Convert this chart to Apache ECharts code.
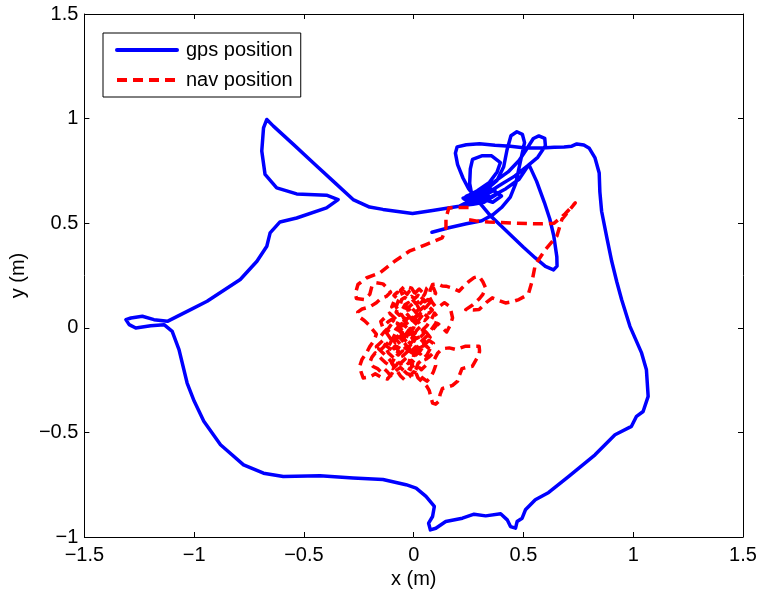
<!DOCTYPE html>
<html>
<head>
<meta charset="utf-8">
<script src="https://cdn.jsdelivr.net/npm/echarts@6/dist/echarts.min.js"></script>
<style>html,body{margin:0;padding:0;background:#fff}#c{width:761px;height:595px}</style>
</head>
<body>
<div id="c"></div>
<script>
var xTicks = [-1.5, -1, -0.5, 0, 0.5, 1, 1.5];
var yTicks = [-1, -0.5, 0, 0.5, 1, 1.5];
var seriesNames = ['gps position', 'nav position'];

var gpsX = [0.083,0.16,0.24,0.31,0.36,0.40,0.44,0.465,0.485,0.505,0.495,0.47,0.443,0.425,0.41,0.38,0.33,0.27,0.225,0.27,
0.33,0.39,0.46,0.52,0.565,0.60,0.597,0.57,0.545,0.515,0.48,0.43,0.37,0.31,0.265,0.255,0.258,0.268,0.31,0.355,
0.395,0.38,0.345,0.29,0.235,0.29,0.35,0.42,0.48,0.525,0.56,0.595,0.62,0.638,0.652,0.653,0.637,0.60,0.554,0.50,
0.45,0.40,0.35,0.31,0.28,0.25,0.225,0.20,0.19,0.198,0.24,0.30,0.37,0.44,0.51,0.585,0.64,0.685,0.72,0.743,
0.775,0.80,0.826,0.845,0.848,0.856,0.88,0.902,0.925,0.947,0.985,1.038,1.06,1.068,1.045,1.015,0.992,0.917,0.826,0.705,
0.615,0.554,0.509,0.494,0.471,0.464,0.441,0.426,0.396,0.328,0.275,0.222,0.146,0.101,0.076,0.068,0.086,0.094,0.056,0.011,
-0.035,-0.14,-0.276,-0.427,-0.594,-0.684,-0.775,-0.88,-0.956,-1.0,-1.032,-1.069,-1.10,-1.137,-1.198,-1.266,-1.296,-1.311,-1.288,-1.236,
-1.183,-1.122,-1.016,-0.941,-0.79,-0.714,-0.669,-0.654,-0.609,-0.533,-0.397,-0.344,-0.397,-0.533,-0.624,-0.677,-0.692,-0.684,-0.669,-0.639,
-0.548,-0.458,-0.367,-0.276,-0.201,-0.14,-0.005,0.086,0.207,0.282,0.33,0.37,0.31,0.26,0.33,0.38,0.32,0.27,
0.22,0.28,0.34,0.30,0.24,0.30,0.36,0.40,0.35,0.29,0.23,0.29,0.345,0.31,0.26];
var gpsY = [0.457,0.478,0.497,0.512,0.54,0.575,0.625,0.69,0.79,0.885,0.925,0.937,0.918,0.85,0.77,0.705,0.66,0.635,0.62,0.61,
0.64,0.68,0.725,0.775,0.815,0.87,0.905,0.917,0.905,0.855,0.80,0.745,0.70,0.66,0.635,0.69,0.76,0.805,0.822,0.822,
0.79,0.745,0.695,0.655,0.625,0.605,0.625,0.665,0.71,0.78,0.70,0.60,0.52,0.44,0.34,0.295,0.277,0.294,0.334,0.385,
0.435,0.485,0.535,0.585,0.625,0.665,0.715,0.78,0.835,0.865,0.875,0.88,0.873,0.868,0.86,0.86,0.863,0.864,0.868,0.879,
0.874,0.858,0.812,0.74,0.65,0.557,0.43,0.318,0.22,0.135,0.007,-0.12,-0.20,-0.328,-0.40,-0.423,-0.471,-0.511,-0.607,-0.711,
-0.787,-0.822,-0.870,-0.910,-0.926,-0.958,-0.950,-0.918,-0.889,-0.899,-0.891,-0.910,-0.926,-0.958,-0.966,-0.934,-0.902,-0.854,-0.806,-0.766,
-0.750,-0.725,-0.718,-0.707,-0.711,-0.695,-0.655,-0.559,-0.447,-0.35,-0.264,-0.104,-0.017,0.015,0.010,-0.001,0.015,0.039,0.047,0.055,
0.039,0.031,0.087,0.127,0.231,0.318,0.39,0.454,0.506,0.525,0.573,0.613,0.634,0.64,0.669,0.733,0.845,0.956,0.996,0.964,
0.877,0.789,0.701,0.613,0.577,0.566,0.546,0.561,0.581,0.621,0.645,0.66,0.625,0.61,0.615,0.64,0.60,0.59,
0.585,0.605,0.63,0.655,0.63,0.62,0.60,0.63,0.665,0.645,0.615,0.595,0.615,0.64,0.625];

// nav position track, [x, y] in metres
var navPath = [
[0.25,0.575],[0.20,0.575],[0.16,0.573],[0.147,0.525],[0.147,0.477],[0.13,0.43],[0.056,0.398],[-0.02,0.366],[-0.087,0.318],[-0.155,0.262],
[-0.216,0.238],[-0.254,0.207],[-0.265,0.165],[-0.261,0.14],[-0.225,0.135],[-0.20,0.16],[-0.19,0.2],[-0.17,0.215],[-0.14,0.21],[-0.12,0.19],
[-0.105,0.17],[-0.125,0.15],[-0.15,0.14],[-0.17,0.12],[-0.2,0.1],[-0.235,0.09],[-0.255,0.075],[-0.245,0.05],[-0.225,0.035],[-0.205,0.015],
[-0.19,-0.005],[-0.17,-0.03],[-0.18,-0.06],[-0.2,-0.09],[-0.215,-0.12],[-0.235,-0.15],[-0.245,-0.18],[-0.24,-0.21],[-0.23,-0.24],[-0.2,-0.235],
[-0.175,-0.22],[-0.15,-0.235],[-0.12,-0.245],[-0.1,-0.22],[-0.085,-0.19],[-0.1,-0.165],[-0.12,-0.14],[-0.14,-0.12],[-0.16,-0.1],[-0.14,-0.075],
[-0.12,-0.09],[-0.095,-0.11],[-0.07,-0.13],[-0.05,-0.11],[-0.06,-0.08],[-0.08,-0.055],[-0.1,-0.03],[-0.12,-0.01],[-0.1,0.02],[-0.075,0.005],
[-0.055,-0.02],[-0.03,-0.04],[-0.01,-0.02],[-0.02,0.01],[-0.04,0.04],[-0.06,0.07],[-0.08,0.1],[-0.07,0.13],[-0.05,0.155],[-0.06,0.18],
[-0.04,0.2],[-0.01,0.19],[0.005,0.165],[-0.01,0.14],[0.01,0.115],[0.03,0.13],[0.05,0.16],[0.06,0.19],[0.075,0.205],[0.09,0.19],
[0.1,0.165],[0.085,0.14],[0.07,0.115],[0.05,0.09],[0.03,0.07],[0.01,0.05],[-0.01,0.075],[-0.03,0.1],[-0.02,0.06],[0.0,0.03],
[0.02,0.01],[0.04,-0.01],[0.06,0.01],[0.08,0.04],[0.095,0.07],[0.11,0.05],[0.1,0.02],[0.08,-0.01],[0.06,-0.04],[0.04,-0.06],
[0.02,-0.08],[0.0,-0.1],[-0.02,-0.13],[-0.04,-0.15],[-0.06,-0.17],[-0.05,-0.2],[-0.03,-0.22],[-0.005,-0.225],[0.01,-0.2],[0.02,-0.17],
[0.04,-0.15],[0.06,-0.13],[0.075,-0.1],[0.09,-0.075],[0.07,-0.06],[0.05,-0.08],[0.03,-0.11],[0.01,-0.13],[-0.01,-0.11],[-0.03,-0.09],
[-0.05,-0.06],[-0.035,-0.03],[-0.015,0.0],
[-0.03,0.02],[-0.045,0.035],[-0.035,0.055],[-0.05,0.07],[-0.065,0.06],[-0.08,0.075],[-0.07,0.095],[-0.085,0.11],[-0.1,0.1],[-0.09,0.125],
[-0.075,0.14],[-0.09,0.155],[-0.075,0.17],[-0.06,0.16],[-0.045,0.175],[-0.03,0.16],[-0.02,0.175],[-0.005,0.185],[0.01,0.17],[0.025,0.185],
[0.04,0.17],[0.03,0.15],[0.045,0.135],[0.03,0.115],[0.015,0.1],[0.03,0.085],[0.045,0.1],[0.06,0.085],[0.05,0.065],[0.065,0.05],
[0.05,0.035],[0.035,0.045],[0.02,0.06],[0.005,0.08],[-0.01,0.095],[-0.025,0.12],[-0.04,0.11],[-0.05,0.09],[-0.04,0.075],[-0.025,0.06],
[-0.01,0.04],[0.005,0.02],[0.0,0.0],[-0.015,-0.02],[-0.03,-0.01],[-0.05,0.0],[-0.065,-0.015],[-0.08,-0.005],[-0.09,-0.025],[-0.075,-0.04],
[-0.06,-0.05],[-0.045,-0.07],[-0.03,-0.06],[-0.015,-0.075],[0.0,-0.06],[0.015,-0.07],[0.03,-0.09],[0.02,-0.105],[0.0,-0.12],[-0.02,-0.105],
[-0.035,-0.12],[-0.05,-0.135],[-0.04,-0.155],[-0.025,-0.17],[-0.01,-0.155],[0.005,-0.17],[0.02,-0.185],[0.035,-0.2],[0.05,-0.185],[0.065,-0.17],
[0.055,-0.15],[0.07,-0.14],[0.085,-0.125],[0.075,-0.105],[0.06,-0.09],[0.045,-0.075],[0.06,-0.06],[0.075,-0.045],[0.06,-0.025],[0.045,-0.01],
[0.03,0.005],[0.015,-0.01],[0.0,-0.035],[-0.02,-0.045],[-0.04,-0.035],[-0.06,-0.025],[-0.08,-0.045],[-0.1,-0.06],[-0.11,-0.08],[-0.125,-0.1],
[-0.115,-0.12],[-0.1,-0.135],[-0.085,-0.15],[-0.07,-0.165],[-0.08,-0.18],[-0.095,-0.195],[-0.11,-0.18],[-0.13,-0.165],[-0.145,-0.15],[-0.16,-0.135],
[-0.175,-0.12],[-0.19,-0.14],[-0.2,-0.165],[-0.185,-0.185],[-0.165,-0.195],[-0.15,-0.21],[-0.135,-0.195],[-0.12,-0.21],[-0.105,-0.23],[-0.09,-0.215],
[-0.075,-0.2],[-0.06,-0.19],[-0.045,-0.205],[-0.03,-0.19],[-0.015,-0.2],[-0.005,-0.17],[0.0,-0.13],[0.01,-0.09],[0.0,-0.05],
[-0.02,-0.01],[-0.035,0.005],[-0.055,0.02],[-0.07,0.01],[-0.085,0.025],[-0.1,0.04],[-0.115,0.03],[-0.13,0.015],[-0.12,-0.005],[-0.135,-0.02],
[-0.15,-0.04],[-0.14,-0.06],[-0.155,-0.075],[-0.17,-0.09],[-0.16,-0.11],[-0.145,-0.1],[-0.13,-0.085],[-0.115,-0.07],[-0.1,-0.085],[-0.09,-0.1],
[-0.075,-0.09],[-0.06,-0.1],[-0.05,-0.085],[-0.035,-0.1],[-0.02,-0.09],[-0.01,-0.075],[0.005,-0.09],[0.015,-0.11],[0.03,-0.125],[0.045,-0.11],
[0.04,-0.09],[0.055,-0.075],[0.045,-0.055],[0.03,-0.04],[0.015,-0.05],[0.0,-0.045],[-0.015,-0.055],[-0.03,-0.07],[-0.045,-0.05],[-0.06,-0.04],
[-0.07,-0.06],[-0.085,-0.07],[-0.095,-0.05],[-0.085,-0.03],[-0.07,-0.015],[-0.06,0.0],[-0.075,0.02],[-0.065,0.04],[-0.05,0.05],[-0.035,0.04],
[-0.02,0.05],[-0.01,0.065],[0.01,0.075],[0.025,0.09],[0.015,0.11],[0.0,0.12],[-0.015,0.105],[-0.03,0.09],[-0.045,0.1],[-0.06,0.115],
[-0.055,0.135],[-0.04,0.145],[-0.025,0.135],[-0.01,0.15],[0.005,0.14],[0.02,0.155],[0.035,0.14],[0.05,0.125],[0.065,0.135],[0.08,0.12],
[0.07,0.1],[0.085,0.085],[0.07,0.07],[0.055,0.075],[0.04,0.06],[0.025,0.04],[0.01,0.025],[-0.005,0.01],[-0.01,-0.015],
[0.005,-0.03],[0.025,-0.05],[0.045,-0.03],[0.04,0.0],[0.02,0.03],[-0.005,0.05],[-0.025,0.03],
[-0.05,0.01],[-0.07,0.03],[-0.09,0.05],[-0.11,0.07],[-0.13,0.05],[-0.15,0.03],[-0.14,0.0],[-0.12,-0.03],[-0.1,-0.06],[-0.085,-0.085],
[-0.07,-0.11],[-0.085,-0.14],[-0.1,-0.17],[-0.08,-0.2],[-0.06,-0.23],[-0.04,-0.25],[-0.02,-0.235],[0.0,-0.21],[0.02,-0.22],[0.04,-0.24],
[0.06,-0.255],[0.075,-0.24],[0.09,-0.21],[0.1,-0.18],[0.095,-0.15],[0.11,-0.12],[0.13,-0.1],[0.162,-0.096],[0.192,-0.104],[0.237,-0.088],
[0.298,-0.088],[0.3,-0.11],[0.298,-0.128],[0.28,-0.16],[0.267,-0.184],[0.24,-0.19],[0.22,-0.195],[0.207,-0.23],[0.2,-0.255],[0.177,-0.275],
[0.15,-0.285],[0.131,-0.29],[0.12,-0.32],[0.116,-0.35],[0.1,-0.365],[0.086,-0.36],[0.078,-0.33],[0.071,-0.3],[0.06,-0.28],[0.04,-0.26],
[0.02,-0.24],[0.0,-0.19],[-0.02,-0.16],[-0.01,-0.13],[0.01,-0.1],[0.03,-0.075],[0.05,-0.05],[0.07,-0.03],[0.09,-0.005],[0.11,0.02],
[0.13,0.0],[0.15,-0.02],[0.165,0.01],[0.177,0.047],[0.17,0.08],[0.162,0.103],[0.14,0.12],[0.12,0.105],[0.1,0.1],[0.085,0.12],
[0.07,0.15],[0.075,0.18],[0.086,0.207],[0.11,0.21],[0.13,0.2],[0.147,0.199],[0.175,0.19],[0.207,0.175],[0.22,0.19],[0.237,0.207],
[0.252,0.222],[0.275,0.24],[0.298,0.246],[0.315,0.22],[0.328,0.19],[0.315,0.16],[0.3,0.14],[0.27,0.11],[0.237,0.087],[0.27,0.085],
[0.298,0.087],[0.33,0.12],[0.358,0.143],[0.39,0.13],[0.418,0.119],[0.45,0.125],[0.479,0.135],[0.505,0.15],[0.524,0.167],[0.539,0.222],
[0.554,0.302],[0.60,0.374],[0.652,0.438],[0.675,0.518],[0.736,0.597],[0.69,0.545],[0.64,0.50],[0.57,0.497],[0.46,0.50],[0.34,0.506],
[0.29,0.51],[0.23,0.52]
];

function pairs(xs, ys){ return xs.map(function(x,i){ return [x, ys[i]]; }); }
function fmt(v){ return (v < 0 ? '\u2212' : '') + String(Math.abs(v)); }

var FONT = '"Liberation Sans", Arial, Helvetica, sans-serif';
var chart = echarts.init(document.getElementById('c'));

function axisBase(pos, ticks, showLabel){
  return {
    type: 'value', position: pos,
    min: ticks[0], max: ticks[ticks.length-1], interval: 0.5,
    axisLine: {show: true, onZero: false, lineStyle: {color: '#000', width: 1}},
    axisTick: {show: true, inside: true, length: 5, lineStyle: {color: '#000'}},
    splitLine: {show: false},
    axisLabel: {show: showLabel, color: '#000', fontSize: 20, fontFamily: FONT, formatter: fmt}
  };
}

var xb = axisBase('bottom', xTicks, true);
xb.axisLabel.margin = 8;
xb.name = 'x (m)'; xb.nameLocation = 'middle'; xb.nameGap = 32;
xb.nameTextStyle = {color: '#000', fontSize: 20, fontFamily: FONT};
var xt = axisBase('top', xTicks, false);
var yl = axisBase('left', yTicks, true);
yl.axisLabel.margin = 6;
yl.name = 'y (m)'; yl.nameLocation = 'middle'; yl.nameGap = 50;
yl.nameTextStyle = {color: '#000', fontSize: 20, fontFamily: FONT};
var yr = axisBase('right', yTicks, false);

chart.setOption({
  animation: false,
  backgroundColor: '#fff',
  grid: {left: 80, right: 18, top: 14, bottom: 58, containLabel: false},
  xAxis: [xb, xt],
  yAxis: [yl, yr],
  legend: {
    orient: 'vertical', left: 103, top: 33,
    data: seriesNames,
    itemWidth: 60, itemHeight: 1, itemGap: 10,
    padding: [7, 8, 7, 12],
    borderColor: '#000', borderWidth: 1,
    backgroundColor: '#fff',
    itemStyle: {opacity: 0},
    lineStyle: {width: 4},
    textStyle: {color: '#000', fontSize: 20, fontFamily: FONT, padding: [0, 0, 0, 4], lineHeight: 20}
  },
  series: [
    {name: seriesNames[0], type: 'line', data: pairs(gpsX, gpsY), symbol: 'none', showSymbol: false,
     xAxisIndex: 0, yAxisIndex: 0, smooth: false,
     itemStyle: {color: '#0000ff'},
     lineStyle: {color: '#0000ff', width: 3.5, join: 'round', cap: 'round'}},
    {name: seriesNames[1], type: 'line', data: navPath, symbol: 'none', showSymbol: false,
     xAxisIndex: 0, yAxisIndex: 0, smooth: false, z: 3,
     itemStyle: {color: '#ff0000'},
     lineStyle: {color: '#ff0000', width: 3.5, type: [10, 6], join: 'round'}}
  ]
});
</script>
</body>
</html>
